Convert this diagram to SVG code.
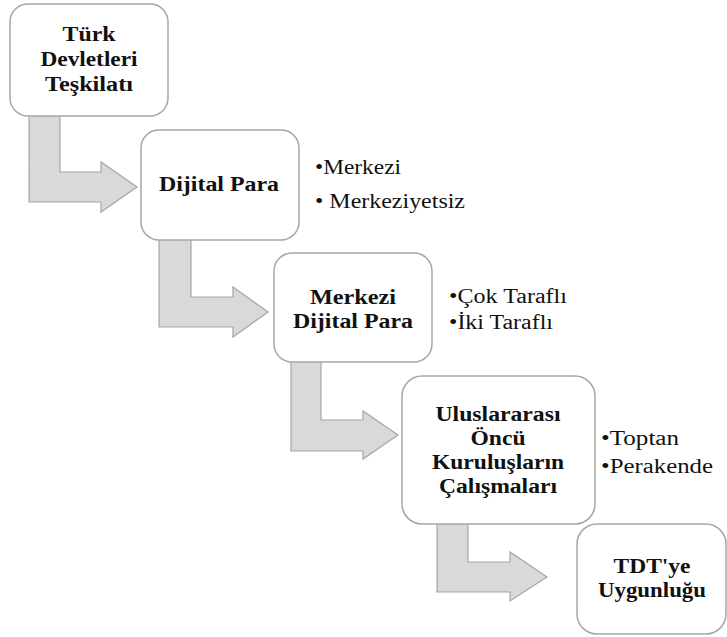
<svg xmlns="http://www.w3.org/2000/svg" width="727" height="637" viewBox="0 0 727 637">
<style>
.box{fill:#ffffff;stroke:#a6a6a6;stroke-width:1.5}
.arr{fill:#d9d9d9;stroke:#a6a6a6;stroke-width:1.2}
.t{font-family:'Liberation Serif','Tinos','Times New Roman','DejaVu Serif','Noto Serif',serif;font-size:20px;font-weight:bold;fill:#111;text-anchor:middle}
.b{font-family:'Liberation Serif','Tinos','Times New Roman','DejaVu Serif','Noto Serif',serif;font-size:20px;fill:#111}
</style>
<rect width="727" height="637" fill="#ffffff"/>
<g id="connectors">
<polygon class="arr" points="29,112 60,112 60,172 101,172 101,162 137,187 101,212 101,202 29,202"/>
<polygon class="arr" points="159,236 191,236 191,297 233,297 233,287 268,312 233,337 233,327 159,327"/>
<polygon class="arr" points="291,358 321,358 321,420 363,420 363,411 398,435 363,459 363,451 291,451"/>
<polygon class="arr" points="437,520 468,520 468,562 510,562 510,552 547,577 510,601 510,592 437,592"/>
</g>
<g id="n1">
<rect class="box" x="10" y="4" width="158" height="112" rx="18"/>
<text class="t" x="89" y="41" textLength="53" lengthAdjust="spacingAndGlyphs">Türk</text>
<text class="t" x="89" y="66" textLength="97" lengthAdjust="spacingAndGlyphs">Devletleri</text>
<text class="t" x="89" y="91" textLength="88" lengthAdjust="spacingAndGlyphs">Teşkilatı</text>
</g>
<g id="n2">
<rect class="box" x="141" y="130" width="158" height="110" rx="18"/>
<text class="t" x="219" y="191" textLength="120" lengthAdjust="spacingAndGlyphs">Dijital Para</text>
<text class="b" x="315" y="174" textLength="86" lengthAdjust="spacingAndGlyphs">•Merkezi</text>
<text class="b" x="315" y="208" textLength="150" lengthAdjust="spacingAndGlyphs">• Merkeziyetsiz</text>
</g>
<g id="n3">
<rect class="box" x="274" y="253" width="158" height="109" rx="18"/>
<text class="t" x="353" y="304" textLength="86" lengthAdjust="spacingAndGlyphs">Merkezi</text>
<text class="t" x="353" y="328" textLength="120" lengthAdjust="spacingAndGlyphs">Dijital Para</text>
<text class="b" x="449" y="303" textLength="118" lengthAdjust="spacingAndGlyphs">•Çok Taraflı</text>
<text class="b" x="449" y="329" textLength="104" lengthAdjust="spacingAndGlyphs">•İki Taraflı</text>
</g>
<g id="n4">
<rect class="box" x="402" y="376" width="193" height="148" rx="20"/>
<text class="t" x="498" y="421" textLength="125" lengthAdjust="spacingAndGlyphs">Uluslararası</text>
<text class="t" x="498" y="445" textLength="55" lengthAdjust="spacingAndGlyphs">Öncü</text>
<text class="t" x="498" y="469" textLength="132" lengthAdjust="spacingAndGlyphs">Kuruluşların</text>
<text class="t" x="498" y="493" textLength="118" lengthAdjust="spacingAndGlyphs">Çalışmaları</text>
<text class="b" x="601" y="445" textLength="78" lengthAdjust="spacingAndGlyphs">•Toptan</text>
<text class="b" x="601" y="473" textLength="112" lengthAdjust="spacingAndGlyphs">•Perakende</text>
</g>
<g id="n5">
<rect class="box" x="577" y="524" width="149" height="110" rx="20"/>
<text class="t" x="652" y="573" textLength="77" lengthAdjust="spacingAndGlyphs">TDT'ye</text>
<text class="t" x="652" y="597" textLength="108" lengthAdjust="spacingAndGlyphs">Uygunluğu</text>
</g>
</svg>
